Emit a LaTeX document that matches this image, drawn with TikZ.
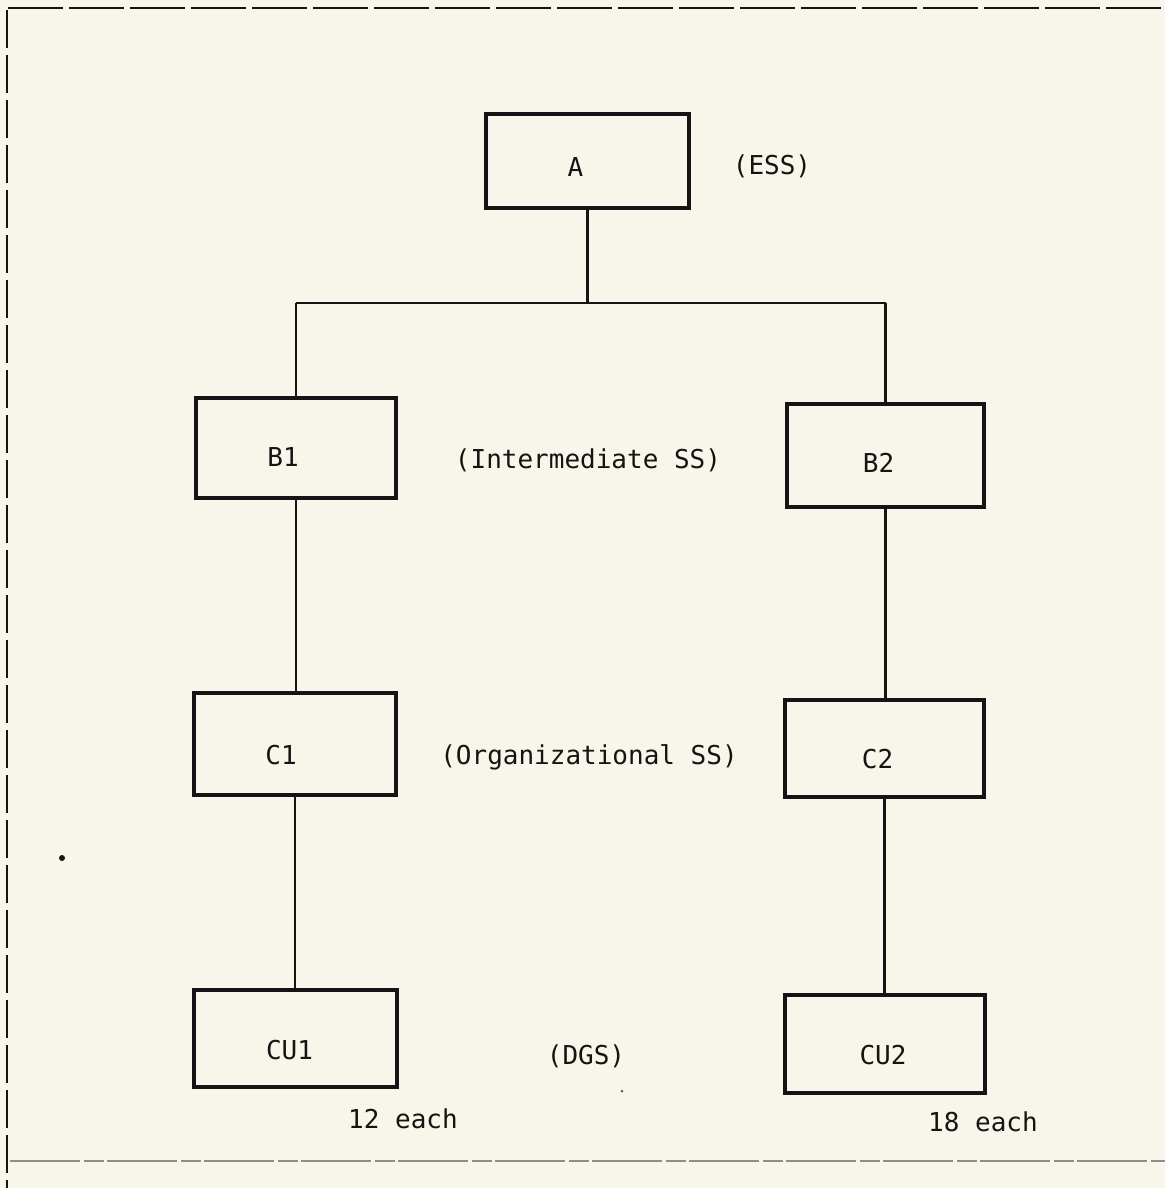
\documentclass[tikz,border=0pt]{standalone}
\usepackage{fontspec}
\setmainfont{DejaVu Sans Mono}
\definecolor{paper}{RGB}{248,246,234}
\definecolor{ink}{RGB}{20,20,20}
\begin{document}
\begin{tikzpicture}[x=1pt,y=-1pt,
  box/.style={draw=ink,line width=3.3pt,inner sep=0pt},
  lbl/.style={font=\fontsize{26}{30}\selectfont,text=ink,inner sep=0pt},
  link/.style={draw=ink,line width=2.3pt}]
\fill[paper] (0,0) rectangle (1165,1188);
\useasboundingbox (0,0) rectangle (1165,1188);
% border
\draw[ink,line width=2.6pt,dash pattern=on 55pt off 6pt] (8,8) -- (1165,8);
\draw[ink,line width=2.6pt,dash pattern=on 38pt off 7pt] (7,10) -- (7,1188);
\draw[black!45,line width=1.6pt,dash pattern=on 70pt off 4pt on 20pt off 3pt] (10,1161) -- (1165,1161);
% boxes
\node[box,minimum width=203pt,minimum height=94pt] (A) at (587.5,161) {};
\node[box,minimum width=200pt,minimum height=100pt] (B1) at (296,448) {};
\node[box,minimum width=197pt,minimum height=103pt] (B2) at (885.5,455.5) {};
\node[box,minimum width=202pt,minimum height=102pt] (C1) at (295,744) {};
\node[box,minimum width=199pt,minimum height=97pt] (C2) at (884.5,748.5) {};
\node[box,minimum width=203pt,minimum height=97pt] (CU1) at (295.5,1038.5) {};
\node[box,minimum width=200pt,minimum height=98pt] (CU2) at (885,1044) {};
% box texts
\node[lbl] (tA) at ([shift={(-12,6)}]A.center) {A};
\node[lbl] (tB1) at ([shift={(-13,9)}]B1.center) {B1};
\node[lbl] (tB2) at ([shift={(-7,7)}]B2.center) {B2};
\node[lbl] (tC1) at ([shift={(-14,11)}]C1.center) {C1};
\node[lbl] (tC2) at ([shift={(-7,11)}]C2.center) {C2};
\node[lbl] (tCU1) at ([shift={(-6,12)}]CU1.center) {CU1};
\node[lbl] (tCU2) at ([shift={(-2,11)}]CU2.center) {CU2};
% labels
\node[lbl] (ess) at (772,166) {(ESS)};
\node[lbl] (iss) at (588,460) {(Intermediate SS)};
\node[lbl] (oss) at (589,757) {(Organizational SS)};
\node[lbl] (dgs) at (586,1056) {(DGS)};
\node[lbl] (n12) at (403,1119) {12 each};
\node[lbl] (n18) at (983,1122) {18 each};
% connectors
\coordinate (J) at (A.south |- 0,303);
\coordinate (JL) at (B1.north |- 0,303);
\coordinate (JR) at (B2.north |- 0,303);
\draw[link] (A.south) -- (J);
\draw[link] (JL) -- (JR);
\draw[link] (JL) -- (B1.north);
\draw[link] (JR) -- (B2.north);
\draw[link] (B1.south) -- (C1.north -| B1.south);
\draw[link] (B2.south) -- (C2.north -| B2.south);
\draw[link] (C1.south) -- (CU1.north -| C1.south);
\draw[link] (C2.south) -- (CU2.north -| C2.south);
% specks
\fill[ink] (62,858) circle (3pt);
\fill[ink!70] (622,1091) circle (1.5pt);
\end{tikzpicture}
\end{document}
